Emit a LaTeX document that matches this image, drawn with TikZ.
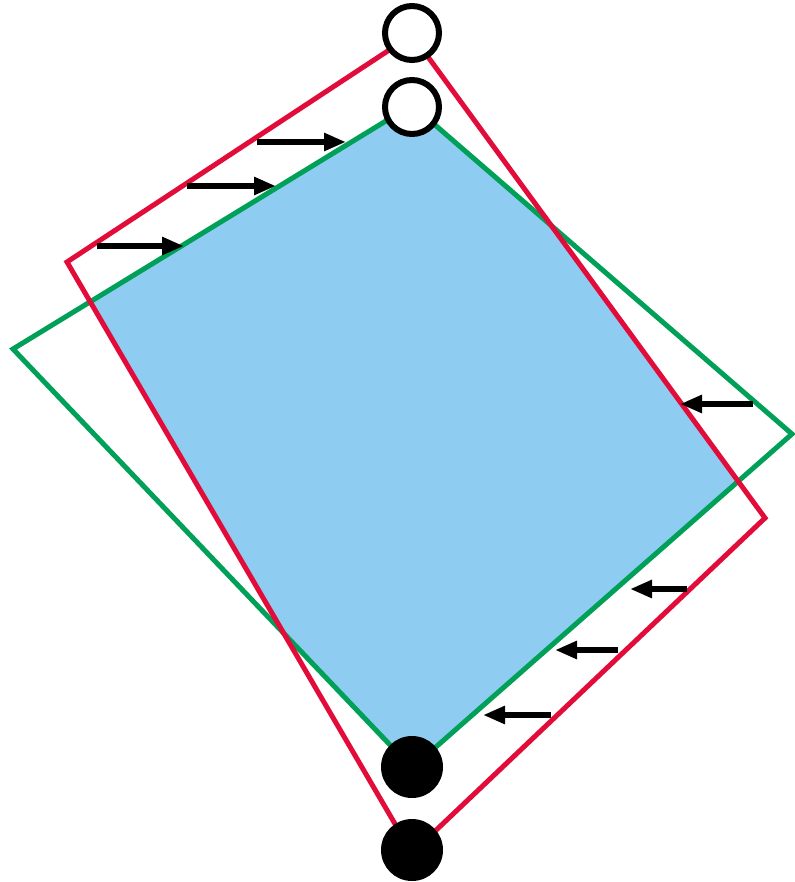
\documentclass[tikz,border=0pt]{standalone}
\usepackage{tikz}
\usetikzlibrary{arrows.meta}
\definecolor{rimred}{RGB}{226,12,58}
\definecolor{rimgreen}{RGB}{0,160,88}
\definecolor{overlap}{RGB}{142,205,241}
\tikzset{
  >={Triangle[length=22pt, width=17pt]},
  redrim/.style={draw=rimred, line width=5pt, line join=miter},
  greenrim/.style={draw=rimgreen, line width=5pt, line join=miter},
  openpin/.style={circle, draw, line width=6pt, fill=white, minimum size=54pt, inner sep=0pt},
  fullpin/.style={circle, draw, line width=2pt, fill=black, minimum size=60pt, inner sep=0pt},
  push/.style={->, line width=6pt},
}

\begin{document}
\begin{tikzpicture}[x=1pt, y=-1pt]
  \useasboundingbox (0,0) rectangle (794,882);
  % corners
  \coordinate (rT) at (412,35);
  \coordinate (rL) at (67,262);
  \coordinate (rB) at (412,853);
  \coordinate (rR) at (765,518);
  \coordinate (gT) at (412,105);
  \coordinate (gL) at (13,349);
  \coordinate (gB) at (412,768);
  \coordinate (gR) at (792,434);
  % overlap
  \begin{scope}
    \clip (rT) -- (rL) -- (rB) -- (rR) -- cycle;
    \fill[overlap] (gT) -- (gL) -- (gB) -- (gR) -- cycle;
  \end{scope}
  \draw[greenrim] (gT) -- (gL) -- (gB) -- (gR) -- cycle;
  \draw[redrim] (rT) -- (rL) -- (rB) -- (rR) -- cycle;
  % pins
  \node[openpin] (top1) at (412,33) {};
  \node[openpin] (top2) at (412,107) {};
  \node[fullpin] (bot1) at (412,767) {};
  \node[fullpin] (bot2) at (412,850) {};
  % arrows
  \coordinate (a1) at (97,246);  \coordinate (b1) at (184,246);
  \coordinate (a2) at (187,186); \coordinate (b2) at (276,186);
  \coordinate (a3) at (257,142); \coordinate (b3) at (346,142);
  \coordinate (a4) at (753,404); \coordinate (b4) at (680,404);
  \coordinate (a5) at (687,589); \coordinate (b5) at (630,589);
  \coordinate (a6) at (618,650); \coordinate (b6) at (555,650);
  \coordinate (a7) at (551,715); \coordinate (b7) at (483,715);
  \foreach \i in {1,...,7}
    \draw[push] (a\i) -- (b\i);
\end{tikzpicture}
\end{document}
